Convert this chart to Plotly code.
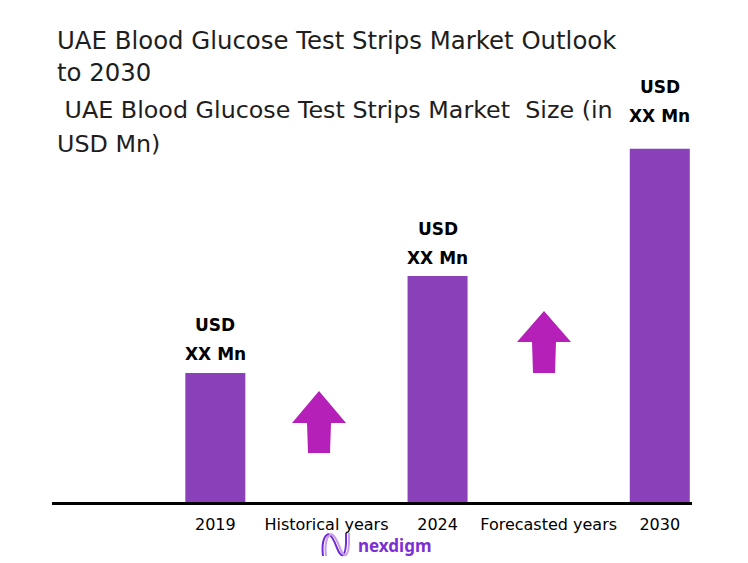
import plotly.graph_objects as go

# categories on the x axis (bars only on the years)
categories = ["2019", "Historical years", "2024", "Forecasted years", "2030"]
years = ["2019", "2024", "2030"]
market_size = [36.5, 64, 100]          # relative bar heights
bar_labels = ["USD", "XX Mn"]

title_lines = ["UAE Blood Glucose Test Strips Market Outlook", "to 2030"]
subtitle_lines = [" UAE Blood Glucose Test Strips Market  Size (in", "USD Mn)"]

BAR = "#8940b9"
ARROW = "#b520b8"
OFF = 8                       # page body margin
W, H = 748 - OFF, 563 - OFF
L, R, T, B = 44, 56, 132, 61
PH = H - T - B
PW = W - L - R


def py(p):
    # page pixel row -> paper y
    return (H - B - (p - OFF)) / PH


def px(p):
    return (p - OFF - L) / PW


fig = go.Figure(go.Bar(
    x=years, y=market_size,
    marker=dict(color=BAR, line_width=0),
    width=0.54,
    hoverinfo="skip",
))

ann = []
# bar value labels
shifts = [19, 18, 33]
for yr, v, s in zip(years, market_size, shifts):
    xi = categories.index(yr)
    ann.append(dict(x=xi, y=v, text="<b>" + bar_labels[1] + "</b>", showarrow=False,
                    yanchor="middle", yshift=s,
                    font=dict(family="DejaVu Sans", size=17, color="black")))
    ann.append(dict(x=xi, y=v, text="<b>" + bar_labels[0] + "</b>", showarrow=False,
                    yanchor="middle", yshift=s + 29,
                    font=dict(family="DejaVu Sans", size=17, color="black")))

# title and subtitle
for txt, row, fs in zip(title_lines + subtitle_lines, [40, 73, 110, 144],
                        [24.4, 24.4, 23.8, 23.8]):
    ann.append(dict(x=px(55), y=py(row), xref="paper", yref="paper", text=txt,
                    showarrow=False, xanchor="left", yanchor="middle",
                    font=dict(family="DejaVu Sans", size=fs, color="#1e1e1e")))

# logo text
ann.append(dict(x=px(356), y=py(545), xref="paper", yref="paper", text="<b>nexdigm</b>",
                showarrow=False, xanchor="left", yanchor="middle",
                font=dict(family="Noto Sans", size=17, color="#7b2fd4")))

shapes = []
# growth arrows (decorative up arrows between the bars)
for cx, top, hw, sw, hl, ln in [(319, 391, 27, 12, 32, 62), (544, 311, 27, 12, 31, 62)]:
    pts = [(cx, top), (cx + hw, top + hl), (cx + sw, top + hl), (cx + sw - 1, top + ln),
           (cx - sw + 1, top + ln), (cx - sw, top + hl), (cx - hw, top + hl)]
    path = "M " + " L ".join("{},{}".format(px(a), py(b)) for a, b in pts) + " Z"
    shapes.append(dict(type="path", xref="paper", yref="paper", path=path,
                       fillcolor=ARROW, line_width=0))

# logo mark: two wavy strokes
for dx, col in [(0, "#6f2bd6"), (3, "#c79be8")]:
    pts = [(323 + dx, 556), (321 + dx, 540), (326 + dx, 532), (330 + dx, 535),
           (336 + dx, 540), (338 + dx, 557), (343 + dx, 555), (347 + dx, 552),
           (346 + dx, 540), (346 + dx, 533)]
    path = "M {},{} C {},{} {},{} {},{} C {},{} {},{} {},{} C {},{} {},{} {},{}".format(
        *[c for p in pts for c in (px(p[0]), py(p[1]))])
    shapes.append(dict(type="path", xref="paper", yref="paper", path=path,
                       line=dict(color=col, width=2)))

fig.update_layout(
    width=W, height=H,
    margin=dict(l=L, r=R, t=T, b=B),
    plot_bgcolor="white", paper_bgcolor="white",
    showlegend=False,
    annotations=ann,
    shapes=shapes,
    xaxis=dict(type="category", categoryorder="array", categoryarray=categories,
               tickvals=categories, range=[-1.47, 4.29],
               showline=True, linecolor="black", linewidth=3, showgrid=False,
               ticks="", ticklabelstandoff=6,
               tickfont=dict(family="DejaVu Sans", size=16, color="black")),
    yaxis=dict(range=[0, 102.5], visible=False, showgrid=False, zeroline=False),
)

fig.write_html("out.html")
